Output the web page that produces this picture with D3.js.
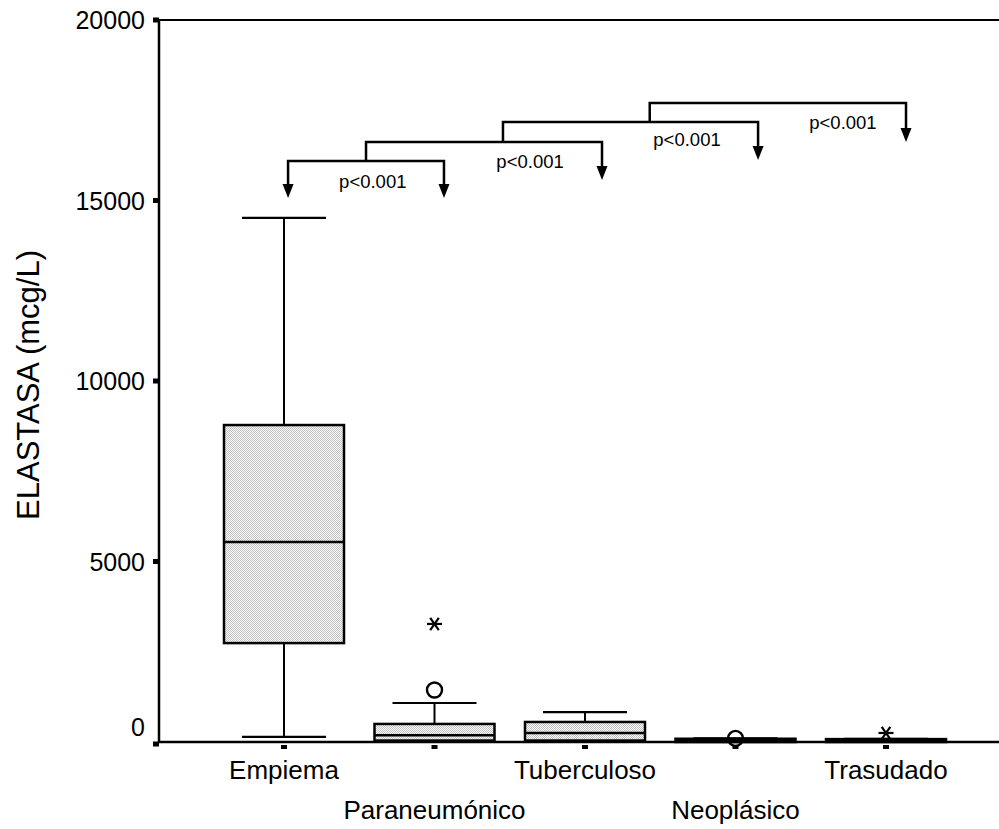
<!DOCTYPE html>
<html>
<head>
<meta charset="utf-8">
<script src="https://cdn.jsdelivr.net/npm/d3@7/dist/d3.min.js"></script>
<style>
  html, body { margin: 0; padding: 0; background: #fff; }
  svg { display: block; font-family: "Liberation Sans", Arial, sans-serif; }
</style>
</head>
<body>
<div id="chart"></div>
<script>
// Group labels
const categories = ["Empiema", "Paraneumónico", "Tuberculoso", "Neoplásico", "Trasudado"];
// Box-plot summaries (mcg/L) per group
const whiskerLow  = [140, 0, 0, 0, 0];
const q1Values    = [2740, 40, 40, 0, 0];
const medians     = [5540, 190, 250, 30, 20];
const q3Values    = [8780, 500, 555, 90, 80];
const whiskerHigh = [14520, 1080, 830, 100, 90];
// Outliers: circles (mild) and asterisks (extreme)
const circleOutliers = [{cat: "Paraneumónico", value: 1440}, {cat: "Neoplásico", value: 100}];
const starOutliers   = [{cat: "Paraneumónico", value: 3270}, {cat: "Trasudado", value: 250}];
// Y axis ticks
const yTicks = [0, 5000, 10000, 15000, 20000];
// Comparison brackets (x in category-index units, y in mcg/L)
const bracketFrom   = [0.027, 0.545, 1.455, 2.43];
const bracketTo     = [1.063, 2.113, 3.15, 4.133];
const bracketLevel  = [16094, 16620, 17175, 17701];
const arrowTip      = [15070, 15568, 16122, 16620];
const pLabels       = ["p<0.001", "p<0.001", "p<0.001", "p<0.001"];
const pLabelX       = [0.59, 1.635, 2.678, 3.714];
const pLabelY       = [15512, 16066, 16676, 17147];

const W = 999, H = 829;
const svg = d3.select("#chart").append("svg").attr("width", W).attr("height", H);

const y = d3.scaleLinear().domain([0, 20000]).range([742, 20]);
const x = d3.scalePoint().domain(categories).range([284, 886]);
const xi = d3.scaleLinear().domain([0, categories.length - 1]).range([284, 886]);
const axisLeft = 159, axisRight = 999;

// Stipple fill for boxes
const defs = svg.append("defs");
const pat = defs.append("pattern").attr("id", "stipple")
  .attr("width", 2).attr("height", 2).attr("patternUnits", "userSpaceOnUse");
pat.append("rect").attr("width", 2).attr("height", 2).attr("fill", "#ffffff");
pat.append("rect").attr("x", 0).attr("y", 0).attr("width", 1).attr("height", 1).attr("fill", "#bebebe");
pat.append("rect").attr("x", 1).attr("y", 1).attr("width", 1).attr("height", 1).attr("fill", "#bebebe");

// Frame: top line, left axis, baseline
svg.append("line").attr("x1", axisLeft).attr("x2", axisRight).attr("y1", y(20000)).attr("y2", y(20000))
  .attr("stroke", "#000").attr("stroke-width", 2);
svg.append("line").attr("x1", axisLeft).attr("x2", axisLeft).attr("y1", y(20000)).attr("y2", y(0))
  .attr("stroke", "#000").attr("stroke-width", 2.5);
svg.append("line").attr("x1", axisLeft).attr("x2", axisRight).attr("y1", y(0)).attr("y2", y(0))
  .attr("stroke", "#000").attr("stroke-width", 2.5);

// Y ticks and labels
const yt = svg.append("g");
yt.selectAll("rect").data(yTicks).enter().append("rect")
  .attr("x", axisLeft - 6).attr("y", d => y(d) - 2.5 + (d === 0 ? 2 : 0)).attr("width", 6).attr("height", 5).attr("fill", "#000");
yt.selectAll("text").data(yTicks).enter().append("text")
  .attr("x", 145).attr("y", d => y(d) + 9 - (d === 0 ? 15 : 0))
  .attr("text-anchor", "end").attr("font-size", 25).attr("fill", "#000")
  .text(d => d);

// Y title
svg.append("text").attr("transform", "translate(39,385) rotate(-90)")
  .attr("text-anchor", "middle").attr("font-size", 31).attr("fill", "#000")
  .text("ELASTASA (mcg/L)");

// X ticks and category labels (staggered)
svg.append("g").selectAll("rect").data(categories).enter().append("rect")
  .attr("x", d => x(d) - 3).attr("y", y(0) + 3).attr("width", 6).attr("height", 4).attr("fill", "#000");
svg.append("g").selectAll("text").data(categories).enter().append("text")
  .attr("x", d => x(d)).attr("y", (d, i) => i % 2 === 0 ? 779 : 819)
  .attr("text-anchor", "middle").attr("font-size", 26).attr("fill", "#000")
  .text(d => d);

// Outliers (circles sit under the boxes)
svg.append("g").selectAll("circle").data(circleOutliers).enter().append("circle")
  .attr("cx", d => x(d.cat)).attr("cy", d => y(d.value)).attr("r", 7.5)
  .attr("fill", "none").attr("stroke", "#000").attr("stroke-width", 2.4);

// Boxes
const boxHalf = 60, capHalf = 42;
const boxes = categories.map((c, i) => ({c, lo: whiskerLow[i], q1: q1Values[i], med: medians[i], q3: q3Values[i], hi: whiskerHigh[i]}));
const bg = svg.append("g").selectAll("g").data(boxes).enter().append("g");
bg.append("line").attr("x1", d => x(d.c)).attr("x2", d => x(d.c)).attr("y1", d => y(d.hi)).attr("y2", d => y(d.q3))
  .attr("stroke", "#000").attr("stroke-width", 2);
bg.append("line").attr("x1", d => x(d.c)).attr("x2", d => x(d.c)).attr("y1", d => y(d.q1)).attr("y2", d => y(d.lo))
  .attr("stroke", "#000").attr("stroke-width", 2);
bg.append("line").attr("x1", d => x(d.c) - capHalf).attr("x2", d => x(d.c) + capHalf).attr("y1", d => y(d.hi)).attr("y2", d => y(d.hi))
  .attr("stroke", "#000").attr("stroke-width", 2.2);
bg.append("line").attr("x1", d => x(d.c) - capHalf).attr("x2", d => x(d.c) + capHalf).attr("y1", d => y(d.lo)).attr("y2", d => y(d.lo))
  .attr("stroke", "#000").attr("stroke-width", 2.2);
bg.append("rect").attr("x", d => x(d.c) - boxHalf).attr("width", boxHalf * 2)
  .attr("y", d => y(d.q3)).attr("height", d => Math.max(1, y(d.q1) - y(d.q3)))
  .attr("fill", "url(#stipple)").attr("stroke", "#000").attr("stroke-width", 2.5);
bg.append("line").attr("x1", d => x(d.c) - boxHalf).attr("x2", d => x(d.c) + boxHalf).attr("y1", d => y(d.med)).attr("y2", d => y(d.med))
  .attr("stroke", "#000").attr("stroke-width", 2.5);

// Extreme values
const stars = svg.append("g").selectAll("g").data(starOutliers).enter().append("g")
  .attr("transform", d => `translate(${x(d.cat)},${y(d.value)})`);
[0, 55, -55].forEach(a => {
  const r = 7.5, rad = a * Math.PI / 180;
  stars.append("line").attr("x1", -r * Math.cos(rad)).attr("y1", -r * Math.sin(rad))
    .attr("x2", r * Math.cos(rad)).attr("y2", r * Math.sin(rad))
    .attr("stroke", "#000").attr("stroke-width", 2.2);
});

// Comparison brackets with arrows and p-values
const br = svg.append("g");
const head = (cx, tipY) => `M${cx - 5.5},${tipY - 14} L${cx + 5.5},${tipY - 14} L${cx},${tipY} Z`;
bracketFrom.forEach((f, i) => {
  const xl = xi(f), xr = xi(bracketTo[i]), ly = y(bracketLevel[i]), tip = y(arrowTip[i]);
  const startY = i === 0 ? tip - 12 : y(bracketLevel[i - 1]);
  br.append("path").attr("d", `M${xl},${startY} L${xl},${ly} L${xr},${ly} L${xr},${tip - 12}`)
    .attr("fill", "none").attr("stroke", "#000").attr("stroke-width", 2.5);
  if (i === 0) br.append("path").attr("d", head(xl, tip)).attr("fill", "#000");
  br.append("path").attr("d", head(xr, tip)).attr("fill", "#000");
  br.append("text").attr("x", xi(pLabelX[i])).attr("y", y(pLabelY[i]) + 6)
    .attr("text-anchor", "middle").attr("font-size", 18.5).attr("fill", "#000").text(pLabels[i]);
});
</script>
</body>
</html>
